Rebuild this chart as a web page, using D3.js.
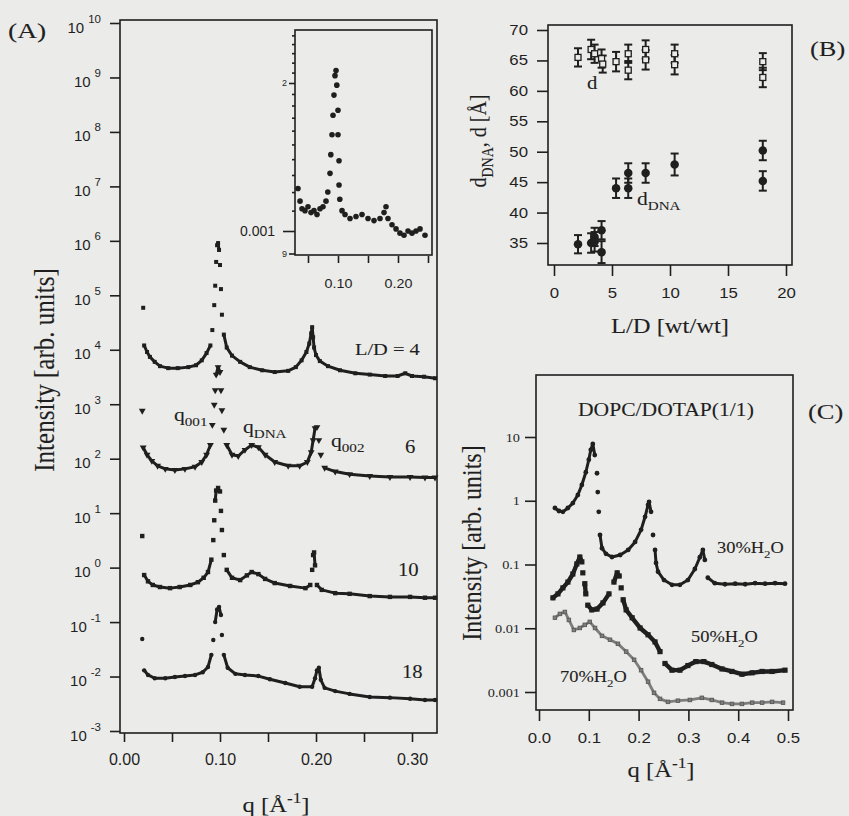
<!DOCTYPE html>
<html>
<head>
<meta charset="utf-8">
<title>SAXS of DNA-lipid complexes</title>
<script src="https://d3js.org/d3.v7.min.js"></script>
<style>
  body { margin: 0; background: #ebebe9; }
  svg { display: block; }
  .frame { fill: none; stroke: #1f1f1f; stroke-width: 1.6; }
  .tick line { stroke: #1f1f1f; stroke-width: 1.6; }
</style>
</head>
<body>
<svg id="fig" width="849" height="816"></svg>
<script>

const SANS = "'Liberation Sans', Arial, Helvetica, sans-serif";
const SERIF = "'Liberation Serif', 'Times New Roman', Times, serif";
const INK = "#1f1f1f";
const PAPER = "#ebebe9";

// ---------- Panel A : q, intensity ----------
const aYExponents = [10, 9, 8, 7, 6, 5, 4, 3, 2, 1, 0, -1, -2, -3];
const aXTicks = [0, 0.05, 0.10, 0.15, 0.20, 0.25, 0.30];
const aXLabels = ["0.00", "", "0.10", "", "0.20", "", "0.30"];

const ld4Lead = [0.020, 5.9e4];
const ld4 = [[0.021,1.2e4],[0.024,9.1e3],[0.027,7.4e3],[0.032,6.0e3],[0.0375,5.0e3],[0.046,4.6e3],[0.056,4.6e3],
  [0.067,4.8e3],[0.075,5.2e3],[0.081,6.4e3],[0.086,8.7e3],[0.090,1.2e4],[0.092,2.3e4],[0.094,6.6e4],[0.095,1.5e5],
  [0.096,4.1e5],[0.097,8.3e5],[0.098,9.1e5],[0.099,6.8e5],[0.100,3.6e5],[0.101,1.3e5],[0.102,4.4e4],[0.104,1.9e4],
  [0.107,1.1e4],[0.1125,7.8e3],[0.121,6.0e3],[0.131,4.8e3],[0.144,4.2e3],[0.157,3.9e3],[0.171,4.1e3],[0.179,4.8e3],
  [0.185,6.4e3],[0.190,9.1e3],[0.193,1.3e4],[0.195,2.0e4],[0.196,2.6e4],[0.197,1.7e4],[0.198,1.1e4],[0.200,8.0e3],
  [0.204,6.2e3],[0.2125,5.0e3],[0.225,4.2e3],[0.241,3.7e3],[0.256,3.5e3],[0.272,3.3e3],[0.285,3.3e3],[0.293,3.7e3],
  [0.300,3.3e3],[0.3125,3.2e3],[0.324,3.0e3]];

const ld6Lead = [0.019, 760];
const ld6 = [[0.020,160],[0.024,118],[0.029,91],[0.035,74],[0.043,65],[0.053,62],[0.0635,65],[0.074,71],[0.081,87],
  [0.086,118],[0.090,178],[0.092,417],[0.094,977],[0.095,1800],[0.096,3500],[0.098,4800],[0.100,3900],[0.101,1800],
  [0.102,776],[0.104,339],[0.107,178],[0.1125,118],[0.119,112],[0.126,145],[0.133,178],[0.140,162],[0.147,118],
  [0.157,87],[0.171,74],[0.183,74],[0.191,87],[0.195,132],[0.197,219],[0.199,363],[0.201,380],[0.203,219],[0.205,118],
  [0.209,68],[0.220,58],[0.235,52],[0.256,48],[0.277,46],[0.298,46],[0.3135,45],[0.324,45]];

const ld10Lead = [0.019, 3.8];
const ld10 = [[0.021,0.73],[0.025,0.56],[0.030,0.48],[0.0375,0.44],[0.048,0.42],[0.058,0.44],[0.069,0.48],[0.077,0.54],
  [0.083,0.65],[0.0875,0.83],[0.091,1.4],[0.093,3.2],[0.094,7.4],[0.095,17],[0.096,26],[0.098,29],[0.100,25],[0.101,11],
  [0.102,4.9],[0.104,1.7],[0.107,0.91],[0.1125,0.65],[0.121,0.59],[0.128,0.72],[0.133,0.83],[0.140,0.76],[0.147,0.62],
  [0.157,0.52],[0.173,0.46],[0.189,0.42],[0.194,0.48],[0.196,0.91],[0.197,1.7],[0.198,1.9],[0.199,1.1],[0.201,0.48],
  [0.206,0.39],[0.220,0.34],[0.235,0.33],[0.256,0.30],[0.277,0.29],[0.298,0.29],[0.3135,0.28],[0.324,0.28]];

const ld18Lead = [0.019, 0.049];
const ld18 = [[0.021,0.013],[0.025,0.0107],[0.032,0.0093],[0.043,0.0093],[0.053,0.0098],[0.0635,0.0102],[0.074,0.0107],
  [0.082,0.012],[0.0875,0.015],[0.091,0.025],[0.093,0.047],[0.095,0.10],[0.097,0.17],[0.099,0.19],[0.101,0.135],
  [0.102,0.058],[0.104,0.025],[0.108,0.0145],[0.116,0.0112],[0.126,0.0107],[0.140,0.0102],[0.152,0.0089],[0.168,0.0076],
  [0.183,0.0065],[0.196,0.0065],[0.199,0.0093],[0.201,0.013],[0.203,0.0145],[0.205,0.0087],[0.209,0.0062],[0.220,0.0054],
  [0.235,0.0048],[0.256,0.0042],[0.277,0.0041],[0.298,0.0039],[0.3135,0.0037],[0.324,0.0037]];

// inset
const insetXTicks = [0.05, 0.10, 0.15, 0.20, 0.25];
const insetXLabels = ["", "0.10", "", "0.20", ""];
const insetMinor = [0.0011,0.0012,0.0013,0.0014,0.0015,0.0016,0.0017,0.0018,0.0019,0.0021,0.0022,0.0023,0.0024,0.0025];
const inset = [[0.0333,1.22e-3],[0.0367,1.15e-3],[0.040,1.11e-3],[0.045,1.10e-3],[0.050,1.12e-3],[0.055,1.09e-3],
  [0.060,1.10e-3],[0.065,1.08e-3],[0.070,1.11e-3],[0.075,1.12e-3],[0.080,1.15e-3],[0.083,1.20e-3],[0.0867,1.31e-3],
  [0.088,1.43e-3],[0.090,1.57e-3],[0.0917,1.72e-3],[0.0933,1.89e-3],[0.095,2.07e-3],[0.0967,2.12e-3],[0.098,1.98e-3],
  [0.100,1.76e-3],[0.100,1.57e-3],[0.1017,1.39e-3],[0.1017,1.24e-3],[0.103,1.16e-3],[0.1067,1.10e-3],[0.1117,1.08e-3],
  [0.120,1.06e-3],[0.130,1.07e-3],[0.140,1.08e-3],[0.150,1.06e-3],[0.160,1.05e-3],[0.170,1.06e-3],[0.1767,1.09e-3],
  [0.180,1.12e-3],[0.1833,1.06e-3],[0.190,1.03e-3],[0.1967,1.01e-3],[0.2033,0.99e-3],[0.210,0.98e-3],[0.2167,1.00e-3],
  [0.2233,0.99e-3],[0.230,1.00e-3],[0.2367,1.01e-3],[0.245,0.98e-3]];

// ---------- Panel B : L/D, spacing, error ----------
const bXTicks = [0, 5, 10, 15, 20];
const bYTicks = [35, 40, 45, 50, 55, 60, 65, 70];
const bD = [[2.07,65.5,1.5],[3.2,66.8,1.6],[3.5,66.1,1.5],[4.1,65.3,1.5],[4.2,64.4,1.4],[5.35,64.8,1.6],
  [6.4,66.1,1.5],[6.4,63.4,1.5],[7.9,66.8,1.5],[7.9,65.1,1.6],[10.4,66.1,1.5],[10.4,64.3,1.6],[18.0,64.8,1.4],[18.0,62.2,1.6]];
const bDNA = [[2.07,34.8,1.5],[3.2,35.0,1.6],[3.5,36.0,1.5],[3.5,35.2,1.6],[4.1,37.1,1.5],[4.1,33.5,1.8],
  [5.35,44.0,1.6],[6.4,46.5,1.6],[6.4,44.0,1.6],[7.9,46.5,1.6],[10.4,47.9,1.8],[18.0,50.2,1.6],[18.0,45.2,1.6]];

// ---------- Panel C : q, intensity ----------
const cXTicks = [0, 0.1, 0.2, 0.3, 0.4, 0.5];
const cYTicks = [10, 1, 0.1, 0.01, 0.001];
const cYLabels = ["10", "1", "0.1", "0.01", "0.001"];
const c30 = [[0.032,0.77],[0.040,0.69],[0.048,0.67],[0.058,0.77],[0.068,0.92],[0.078,1.23],[0.086,1.77],[0.094,2.8],
  [0.100,4.4],[0.104,6.3],[0.108,7.8],[0.112,5.2],[0.1165,2.7],[0.118,1.37],[0.120,0.67],[0.1225,0.29],[0.1265,0.18],
  [0.1345,0.147],[0.1465,0.131],[0.163,0.141],[0.179,0.169],[0.193,0.226],[0.205,0.35],[0.213,0.56],[0.219,0.86],
  [0.221,0.96],[0.225,0.67],[0.229,0.29],[0.233,0.169],[0.235,0.106],[0.239,0.077],[0.251,0.057],[0.267,0.048],
  [0.283,0.048],[0.299,0.057],[0.313,0.085],[0.323,0.13],[0.329,0.169],[0.333,0.118],[0.339,0.062],[0.353,0.051],
  [0.3735,0.049],[0.394,0.050],[0.414,0.049],[0.434,0.051],[0.454,0.050],[0.474,0.051],[0.494,0.050]];
const c50 = [[0.028,0.030],[0.038,0.0346],[0.048,0.043],[0.058,0.053],[0.068,0.071],[0.076,0.102],[0.082,0.131],
  [0.086,0.110],[0.088,0.074],[0.092,0.050],[0.094,0.0346],[0.098,0.023],[0.106,0.0194],[0.1165,0.020],[0.1285,0.025],
  [0.1405,0.0346],[0.1505,0.053],[0.157,0.074],[0.161,0.066],[0.165,0.043],[0.169,0.028],[0.175,0.0194],[0.187,0.0146],
  [0.203,0.0101],[0.219,0.0079],[0.233,0.0061],[0.243,0.0043],[0.253,0.0028],[0.267,0.0022],[0.283,0.0022],
  [0.299,0.0026],[0.315,0.0030],[0.331,0.0030],[0.347,0.0027],[0.3675,0.0023],[0.3875,0.0021],[0.4075,0.0019],
  [0.428,0.0020],[0.448,0.0021],[0.468,0.0021],[0.494,0.0022]];
const c70 = [[0.032,0.0146],[0.042,0.0168],[0.052,0.018],[0.060,0.0135],[0.070,0.0094],[0.082,0.0101],[0.092,0.0113],
  [0.102,0.0126],[0.1125,0.0101],[0.1265,0.0076],[0.1425,0.0066],[0.1585,0.0057],[0.175,0.0043],[0.191,0.0032],
  [0.205,0.0022],[0.219,0.00145],[0.231,0.00097],[0.243,0.00078],[0.259,0.0007],[0.279,0.00073],[0.303,0.00075],
  [0.327,0.00081],[0.347,0.00075],[0.3675,0.00068],[0.3875,0.00065],[0.4075,0.00065],[0.428,0.00068],[0.448,0.00068],
  [0.468,0.0007],[0.49,0.00068]];

const svg = d3.select("#fig");
svg.append("rect").attr("width", 849).attr("height", 816).attr("fill", PAPER);

// Text with sub/superscripts; sx widens glyphs like the scanned original
function label(g, x, y, parts, o = {}) {
  const size = o.size || 18;
  const sx = o.sx || 1.15;
  const t = g.append("text")
      .attr("transform", `translate(${x},${y}) scale(${sx},1)` + (o.rotate ? " rotate(-90)" : ""))
      .attr("font-family", o.family || SERIF)
      .attr("font-size", size)
      .attr("text-anchor", o.anchor || "start")
      .attr("fill", INK)
      .attr("stroke", INK)
      .attr("stroke-width", 0.1);
  let shift = 0;
  parts.forEach(p => {
    const [str, kind] = typeof p === "string" ? [p, null] : p;
    const target = kind === "sub" ? size * 0.3 : kind === "sup" ? -size * 0.42 : 0;
    t.append("tspan")
        .attr("dy", target - shift)
        .attr("font-size", kind ? size * 0.7 : size)
        .text(str);
    shift = target;
  });
  return t;
}

function styleTicks(g, size, family, sx, left) {
  g.select(".domain").remove();
  g.selectAll(".tick text")
      .attr("font-size", size)
      .attr("font-family", family)
      .attr("fill", INK)
      .attr("transform", `scale(${sx},1)`)
      .each(function() {
        if (left) d3.select(this).attr("x", +d3.select(this).attr("x") / sx);
      });
}

// markers and connecting segments (broken where the vertical step is large)
function drawSeries(g, data, x, y, o) {
  const pts = data.map(d => [x(d[0]), y(d[1])]);
  if (o.width) {
    let path = "";
    for (let i = 1; i < pts.length; i++) {
      if (Math.abs(pts[i][1] - pts[i - 1][1]) < o.gap) path += d3.line()([pts[i - 1], pts[i]]);
    }
    g.append("path")
        .attr("d", path)
        .attr("fill", "none")
        .attr("stroke", o.color)
        .attr("stroke-width", o.width)
        .attr("stroke-linecap", "round");
  }
  drawMarkers(g, pts, o);
}

function drawMarkers(g, pts, o) {
  const s = o.size;
  if (o.marker === "circle") {
    g.selectAll(null).data(pts).enter().append("circle")
        .attr("cx", d => d[0]).attr("cy", d => d[1]).attr("r", s / 2)
        .attr("fill", o.color);
  } else if (o.marker === "tri") {
    const sym = d3.symbol().type(d3.symbolTriangle).size(s * s * 0.8);
    g.selectAll(null).data(pts).enter().append("path")
        .attr("d", sym())
        .attr("transform", d => `translate(${d[0]},${d[1]}) rotate(180)`)
        .attr("fill", o.color);
  } else {
    g.selectAll(null).data(pts).enter().append("rect")
        .attr("x", d => d[0] - s / 2).attr("y", d => d[1] - s / 2)
        .attr("width", s).attr("height", s)
        .attr("fill", o.fill || o.color)
        .attr("stroke", o.stroke || "none")
        .attr("stroke-width", o.strokeWidth || 0.8);
  }
}

// ================= Panel A =================
const xA = d3.scaleLinear().domain([0, 0.3]).range([124, 412]);
const yA = d3.scaleLog().domain([1e-3, 1e10]).range([731, 23]);
const gA = svg.append("g");

gA.append("rect").attr("class", "frame").attr("x", 120).attr("y", 20).attr("width", 317).attr("height", 713);

gA.append("g")
    .attr("transform", "translate(120,0)")
    .call(d3.axisLeft(yA).tickValues(aYExponents.map(e => Math.pow(10, e))).tickSize(10).tickFormat(""))
    .call(g => g.select(".domain").remove())
    .selectAll(".tick").each(function(d, i) {
      const t = d3.select(this).append("text")
          .attr("x", -19).attr("y", 9)
          .attr("text-anchor", "end")
          .attr("font-family", SANS)
          .attr("fill", INK);
      t.append("tspan").attr("font-size", 15).text("10");
      t.append("tspan").attr("font-size", 11.5).attr("dx", 4).attr("dy", -10).text(aYExponents[i]);
    });

gA.append("g")
    .attr("transform", "translate(0,733)")
    .call(d3.axisBottom(xA).tickValues(aXTicks).tickSize(9).tickPadding(12).tickFormat((d, i) => aXLabels[i]))
    .call(g => styleTicks(g, 16, SANS, 1, false));

const aSeries = [
  {data: ld4, lead: ld4Lead, marker: "square", size: 4},
  {data: ld6, lead: ld6Lead, marker: "tri", size: 5},
  {data: ld10, lead: ld10Lead, marker: "square", size: 4.4},
  {data: ld18, lead: ld18Lead, marker: "circle", size: 4.4}
];
aSeries.forEach(s => {
  drawSeries(gA, s.data, xA, yA, {marker: s.marker, size: s.size, color: INK, width: 3, gap: 13});
  drawMarkers(gA, [[xA(s.lead[0]), yA(s.lead[1])]], {marker: s.marker, size: s.size, color: INK});
});

// inset
const xI = d3.scaleLinear().domain([0.1, 0.2]).range([338, 398]);
const yI = d3.scaleLog().domain([0.0009, 0.002]).range([253.5, 83]);
const gI = svg.append("g");
gI.append("rect").attr("class", "frame").attr("x", 295).attr("y", 30).attr("width", 137).attr("height", 225);
gI.append("g").attr("transform", "translate(295,0)")
    .call(d3.axisLeft(yI).tickValues(insetMinor).tickSize(3).tickFormat(""))
    .call(g => g.select(".domain").remove());
gI.append("g").attr("transform", "translate(295,0)")
    .call(d3.axisLeft(yI).tickValues([0.001]).tickSize(12).tickPadding(8).tickFormat(() => "0.001"))
    .call(g => styleTicks(g, 14, SANS, 1, true));
gI.append("g").attr("transform", "translate(295,0)")
    .call(d3.axisLeft(yI).tickValues([0.0009, 0.002]).tickSize(6).tickPadding(2).tickFormat(d => d < 0.001 ? "9" : "2"))
    .call(g => styleTicks(g, 9, SANS, 1, true));
gI.append("g").attr("transform", "translate(0,256)")
    .call(d3.axisBottom(xI).tickValues(insetXTicks).tickSize(7).tickPadding(16).tickFormat((d, i) => insetXLabels[i]))
    .call(g => styleTicks(g, 13, SANS, 1.1, false));
drawSeries(gI, inset, xI, yI, {marker: "circle", size: 5.6, color: INK});

label(gA, 8, 38, ["(A)"], {size: 22, sx: 1.25});
label(gA, 54, 370, ["Intensity [arb. units]"], {size: 25, rotate: true, anchor: "middle"});
label(gA, 276, 812, ["q  [Å", ["-1", "sup"], "]"], {size: 22, anchor: "middle", sx: 1.12});
label(gA, 355, 355, ["L/D = 4"], {size: 17, sx: 1.2});
label(gA, 405, 453, ["6"], {size: 18});
label(gA, 398, 576, ["10"], {size: 18});
label(gA, 402, 678, ["18"], {size: 18});
label(gA, 174, 421, ["q", ["001", "sub"]], {size: 18, sx: 1.2});
label(gA, 243, 433, ["q", ["DNA", "sub"]], {size: 18, sx: 1.2});
label(gA, 331, 447, ["q", ["002", "sub"]], {size: 18, sx: 1.2});

// ================= Panel B =================
const xB = d3.scaleLinear().domain([0, 20]).range([554, 786]);
const yB = d3.scaleLinear().domain([35, 70]).range([243, 30]);
const gB = svg.append("g");
gB.append("rect").attr("class", "frame").attr("x", 548).attr("y", 25).attr("width", 244).attr("height", 240);
gB.append("g").attr("transform", "translate(548,0)")
    .call(d3.axisLeft(yB).tickValues(bYTicks).tickSize(11).tickPadding(9).tickFormat(d3.format("d")))
    .call(g => styleTicks(g, 14, SANS, 1.2, true));
gB.append("g").attr("transform", "translate(0,265)")
    .call(d3.axisBottom(xB).tickValues(bXTicks).tickSize(11).tickPadding(12).tickFormat(d3.format("d")))
    .call(g => styleTicks(g, 14, SANS, 1.2, false));

function errorBars(g, data) {
  const e = g.selectAll(null).data(data).enter().append("g").attr("stroke", INK).attr("stroke-width", 2);
  e.append("line").attr("x1", d => xB(d[0])).attr("x2", d => xB(d[0]))
      .attr("y1", d => yB(d[1] - d[2])).attr("y2", d => yB(d[1] + d[2]));
  [-1, 1].forEach(k => e.append("line")
      .attr("x1", d => xB(d[0]) - 4).attr("x2", d => xB(d[0]) + 4)
      .attr("y1", d => yB(d[1] + k * d[2])).attr("y2", d => yB(d[1] + k * d[2])));
}
errorBars(gB, bD);
errorBars(gB, bDNA);
drawMarkers(gB, bD.map(d => [xB(d[0]), yB(d[1])]), {marker: "square", size: 6, fill: PAPER, stroke: INK, strokeWidth: 1.3});
drawMarkers(gB, bDNA.map(d => [xB(d[0]), yB(d[1])]), {marker: "circle", size: 8.5, color: INK});

label(gB, 810, 56, ["(B)"], {size: 22, sx: 1.2});
label(gB, 587, 89, ["d"], {size: 18, sx: 1.15});
label(gB, 637, 205, ["d", ["DNA", "sub"]], {size: 18, sx: 1.2});
label(gB, 670, 333, ["L/D  [wt/wt]"], {size: 20.5, anchor: "middle", sx: 1.2});
label(gB, 486, 141, ["d", ["DNA", "sub"], ",  d  [Å]"], {size: 20, rotate: true, anchor: "middle"});

// ================= Panel C =================
const xC = d3.scaleLinear().domain([0, 0.5]).range([539, 788]);
const yC = d3.scaleLog().domain([0.001, 10]).range([692, 437]);
const gC = svg.append("g");
gC.append("rect").attr("class", "frame").attr("x", 536).attr("y", 375).attr("width", 257).attr("height", 335);
gC.append("g").attr("transform", "translate(536,0)")
    .call(d3.axisLeft(yC).tickValues(cYTicks).tickSize(11).tickPadding(5).tickFormat((d, i) => cYLabels[i]))
    .call(g => styleTicks(g, 13, SERIF, 1.1, true));
gC.append("g").attr("transform", "translate(0,710)")
    .call(d3.axisBottom(xC).tickValues(cXTicks).tickSize(11).tickPadding(12).tickFormat(d3.format(".1f")))
    .call(g => styleTicks(g, 14, SANS, 1.2, false));

drawSeries(gC, c70, xC, yC, {marker: "square", size: 3.6, color: "#7d7d7d", stroke: "#555", width: 2.8, gap: 30});
drawSeries(gC, c50, xC, yC, {marker: "square", size: 5.2, color: INK, width: 4.4, gap: 10.5});
drawSeries(gC, c30, xC, yC, {marker: "circle", size: 4.8, color: INK, width: 3, gap: 14});

label(gC, 578, 416, ["DOPC/DOTAP(1/1)"], {size: 18, sx: 1.2});
label(gC, 808, 419, ["(C)"], {size: 22, sx: 1.2});
label(gC, 717, 553, ["30%H", ["2", "sub"], "O"], {size: 16});
label(gC, 691, 642, ["50%H", ["2", "sub"], "O"], {size: 16});
label(gC, 560, 682, ["70%H", ["2", "sub"], "O"], {size: 16});
label(gC, 481, 543, ["Intensity [arb. units]"], {size: 24, rotate: true, anchor: "middle"});
label(gC, 661, 777, ["q  [Å", ["-1", "sup"], "]"], {size: 22, anchor: "middle", sx: 1.12});

</script>
</body>
</html>
